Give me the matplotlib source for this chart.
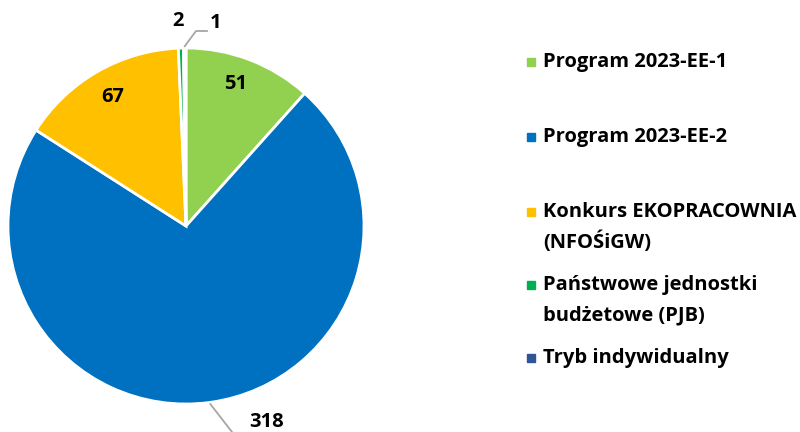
import numpy as np
import matplotlib
matplotlib.use("Agg")
import matplotlib.pyplot as plt
from matplotlib.patches import Rectangle

plt.rcParams['font.family'] = ['Open Sans', 'DejaVu Sans']
plt.rcParams['font.weight'] = 'bold'

labels = ["Program 2023-EE-1", "Program 2023-EE-2", "Konkurs EKOPRACOWNIA\n(NFOŚiGW)",
          "Państwowe jednostki\nbudżetowe (PJB)", "Tryb indywidualny"]
values = [51, 318, 67, 2, 1]
colors = ["#92D050", "#0070C0", "#FFC000", "#00B050", "#2F5597"]

W, H = 800, 432
fig = plt.figure(figsize=(W / 100, H / 100), dpi=100)

# pie placed in pixel terms: centre (186, 226), radius 178
cx, cy, r = 186, 226, 178
ax = fig.add_axes([(cx - r) / W, (H - cy - r) / H, 2 * r / W, 2 * r / H])
wedges, _ = ax.pie(values, colors=colors, startangle=90, counterclock=False,
                   wedgeprops=dict(edgecolor="white", linewidth=2), radius=1)
ax.set_xlim(-1, 1)
ax.set_ylim(-1, 1)
ax.axis("off")

def px(x, y):
    # pixel position -> data coords of the pie axes
    return (x - cx) / r, (cy - y) / r

# label positions (pixels) and optional leader line bends
label_pos = [(236, 84), (267, 422), (113, 97), (178, 21), (216, 23)]
leaders = {1: [(232, 432)], 4: [(196, 31), (207, 31)]}

for i, (w, v) in enumerate(zip(wedges, values)):
    tx, ty = px(*label_pos[i])
    ax.text(tx, ty, str(v), ha="center", va="center", fontsize=14.5,
            fontweight="bold", color="black")
    if i in leaders:
        mid = np.deg2rad((w.theta1 + w.theta2) / 2)
        xs = [np.cos(mid) * 1.01] + [px(*p)[0] for p in leaders[i]]
        ys = [np.sin(mid) * 1.01] + [px(*p)[1] for p in leaders[i]]
        ax.plot(xs, ys, color="#A6A6A6", lw=1.3, clip_on=False)

# legend drawn by hand to mimic the spacing of the original
leg_y = [62, 137, 212, 285, 358]
line_gap = 30
for lab, col, y in zip(labels, colors, leg_y):
    fig.patches.append(Rectangle(((527) / W, (H - y - 4) / H), 8 / W, 8 / H,
                                 transform=fig.transFigure, color=col))
    for j, line in enumerate(lab.split("\n")):
        fig.text(543 / W, (H - y - j * line_gap) / H, line, ha="left", va="center",
                 fontsize=14.5, fontweight="bold", color="black")

fig.savefig("out.png", dpi=100)
